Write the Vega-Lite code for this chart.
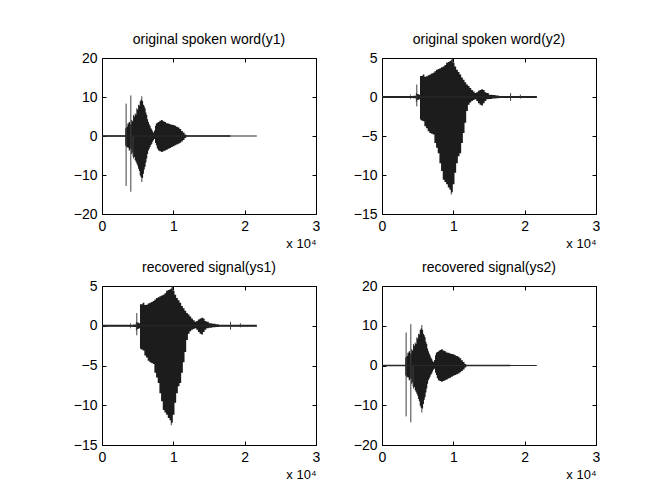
{
  "$schema": "https://vega.github.io/schema/vega-lite/v6.json",
  "padding": {"left": 72, "top": 32, "right": 5, "bottom": 5},
  "background": "white",
  "columns": 2,
  "spacing": {"row": 72, "column": 66},
  "bounds": "flush",
  "config": {
    "font": "Liberation Sans",
    "view": {"stroke": "black", "strokeWidth": 1},
    "axis": {"domain": false, "grid": false, "tickColor": "black", "tickWidth": 1, "tickSize": -4, "labelPadding": 9, "labelColor": "black", "labelFont": "Liberation Sans", "labelFontSize": 14, "labelFlush": false, "labelOverlap": false, "titleFont": "Liberation Sans", "titleFontWeight": "normal", "titleColor": "black", "titleFontSize": 13},
    "title": {"font": "Liberation Sans", "fontSize": 14, "fontWeight": "normal", "color": "black", "offset": 4}
  },
  "datasets": {
    "sigA": [
      {"x": 0, "hi": 0.2, "lo": -0.2},
      {"x": 3200, "hi": 0.2, "lo": -0.2},
      {"x": 3300, "hi": 2.0, "lo": -2.5},
      {"x": 3473, "hi": 2.4, "lo": -2.8},
      {"x": 3650, "hi": 3.2, "lo": -3.0},
      {"x": 3849, "hi": 3.6, "lo": -3.7},
      {"x": 4000, "hi": 3.0, "lo": -3.3},
      {"x": 4177, "hi": 4.1, "lo": -4.6},
      {"x": 4300, "hi": 3.8, "lo": -4.2},
      {"x": 4412, "hi": 5.4, "lo": -5.8},
      {"x": 4530, "hi": 5.0, "lo": -5.4},
      {"x": 4646, "hi": 5.8, "lo": -6.2},
      {"x": 4760, "hi": 5.5, "lo": -6.6},
      {"x": 4881, "hi": 7.1, "lo": -7.1},
      {"x": 5000, "hi": 6.8, "lo": -7.6},
      {"x": 5116, "hi": 8.0, "lo": -8.4},
      {"x": 5230, "hi": 7.8, "lo": -9.0},
      {"x": 5350, "hi": 8.9, "lo": -10.1},
      {"x": 5470, "hi": 9.3, "lo": -10.6},
      {"x": 5585, "hi": 10.2, "lo": -11.8},
      {"x": 5700, "hi": 9.0, "lo": -10.8},
      {"x": 5820, "hi": 8.0, "lo": -9.7},
      {"x": 5940, "hi": 7.6, "lo": -8.6},
      {"x": 6054, "hi": 7.1, "lo": -7.9},
      {"x": 6170, "hi": 6.0, "lo": -6.8},
      {"x": 6289, "hi": 5.4, "lo": -5.8},
      {"x": 6400, "hi": 4.3, "lo": -4.6},
      {"x": 6524, "hi": 3.6, "lo": -3.7},
      {"x": 6640, "hi": 3.0, "lo": -3.3},
      {"x": 6758, "hi": 2.6, "lo": -2.8},
      {"x": 6870, "hi": 2.0, "lo": -2.3},
      {"x": 6993, "hi": 1.7, "lo": -2.0},
      {"x": 7110, "hi": 1.2, "lo": -1.5},
      {"x": 7228, "hi": 0.9, "lo": -1.1},
      {"x": 7369, "hi": 1.4, "lo": -0.8},
      {"x": 7500, "hi": 2.6, "lo": -1.8},
      {"x": 7603, "hi": 3.2, "lo": -2.4},
      {"x": 7760, "hi": 3.4, "lo": -3.2},
      {"x": 7932, "hi": 3.6, "lo": -3.7},
      {"x": 8160, "hi": 3.9, "lo": -3.9},
      {"x": 8401, "hi": 4.1, "lo": -4.1},
      {"x": 8630, "hi": 3.8, "lo": -3.9},
      {"x": 8870, "hi": 3.6, "lo": -3.7},
      {"x": 9100, "hi": 3.3, "lo": -3.5},
      {"x": 9340, "hi": 3.2, "lo": -3.3},
      {"x": 9570, "hi": 3.0, "lo": -3.1},
      {"x": 9809, "hi": 2.9, "lo": -2.8},
      {"x": 10040, "hi": 2.8, "lo": -2.6},
      {"x": 10278, "hi": 2.6, "lo": -2.4},
      {"x": 10510, "hi": 2.4, "lo": -2.2},
      {"x": 10748, "hi": 2.2, "lo": -2.0},
      {"x": 10980, "hi": 1.8, "lo": -1.7},
      {"x": 11217, "hi": 1.3, "lo": -1.4},
      {"x": 11450, "hi": 0.9, "lo": -1.0},
      {"x": 11686, "hi": 0.4, "lo": -0.5},
      {"x": 11921, "hi": 0.2, "lo": -0.2},
      {"x": 18000, "hi": 0.2, "lo": -0.2}
    ],
    "spikesA": [
      {"x": 3380, "hi": 8.3, "lo": -12.8},
      {"x": 4040, "hi": 10.4, "lo": -14.3},
      {"x": 4350, "hi": 0, "lo": -5.2}
    ],
    "baseA": [
      {"x": 0, "y": 0},
      {"x": 21700, "y": 0}
    ],
    "sigB": [
      {"x": 0, "hi": 0.12, "lo": -0.12},
      {"x": 3900, "hi": 0.12, "lo": -0.12},
      {"x": 3950, "hi": 0.35, "lo": -0.3},
      {"x": 4050, "hi": 0.12, "lo": -0.12},
      {"x": 4700, "hi": 0.15, "lo": -0.15},
      {"x": 4800, "hi": 0.5, "lo": -0.6},
      {"x": 5000, "hi": 0.4, "lo": -0.4},
      {"x": 5300, "hi": 0.3, "lo": -0.3},
      {"x": 5350, "hi": 2.7, "lo": -2.9},
      {"x": 5585, "hi": 2.7, "lo": -3.0},
      {"x": 5820, "hi": 2.9, "lo": -3.1},
      {"x": 6054, "hi": 2.6, "lo": -3.75},
      {"x": 6289, "hi": 2.65, "lo": -4.0},
      {"x": 6524, "hi": 2.8, "lo": -4.4},
      {"x": 6758, "hi": 2.9, "lo": -4.6},
      {"x": 7000, "hi": 3.0, "lo": -4.7},
      {"x": 7228, "hi": 3.1, "lo": -4.8},
      {"x": 7462, "hi": 3.3, "lo": -5.9},
      {"x": 7697, "hi": 3.5, "lo": -6.5},
      {"x": 7932, "hi": 3.6, "lo": -7.2},
      {"x": 8166, "hi": 3.7, "lo": -8.5},
      {"x": 8401, "hi": 3.8, "lo": -9.5},
      {"x": 8636, "hi": 3.9, "lo": -10.6},
      {"x": 8870, "hi": 4.1, "lo": -10.9},
      {"x": 9105, "hi": 4.4, "lo": -11.2},
      {"x": 9340, "hi": 4.5, "lo": -11.6},
      {"x": 9574, "hi": 4.6, "lo": -11.9},
      {"x": 9715, "hi": 4.7, "lo": -12.5},
      {"x": 9809, "hi": 5.0, "lo": -12.2},
      {"x": 10044, "hi": 4.4, "lo": -11.2},
      {"x": 10278, "hi": 3.9, "lo": -9.7},
      {"x": 10513, "hi": 3.5, "lo": -8.5},
      {"x": 10748, "hi": 3.2, "lo": -7.6},
      {"x": 10982, "hi": 2.9, "lo": -7.2},
      {"x": 11217, "hi": 2.5, "lo": -5.9},
      {"x": 11452, "hi": 2.2, "lo": -4.6},
      {"x": 11686, "hi": 1.9, "lo": -3.3},
      {"x": 11921, "hi": 1.6, "lo": -1.8},
      {"x": 12156, "hi": 1.4, "lo": -1.0},
      {"x": 12390, "hi": 1.15, "lo": -0.7},
      {"x": 12625, "hi": 0.9, "lo": -0.5},
      {"x": 12860, "hi": 0.7, "lo": -0.4},
      {"x": 13100, "hi": 0.5, "lo": -0.3},
      {"x": 13329, "hi": 0.6, "lo": -0.5},
      {"x": 13560, "hi": 0.8, "lo": -0.8},
      {"x": 13798, "hi": 0.9, "lo": -1.0},
      {"x": 14030, "hi": 1.0, "lo": -1.1},
      {"x": 14268, "hi": 0.9, "lo": -0.8},
      {"x": 14500, "hi": 0.6, "lo": -0.5},
      {"x": 14737, "hi": 0.5, "lo": -0.3},
      {"x": 15206, "hi": 0.3, "lo": -0.25},
      {"x": 15675, "hi": 0.25, "lo": -0.2},
      {"x": 16145, "hi": 0.2, "lo": -0.15},
      {"x": 16614, "hi": 0.12, "lo": -0.12},
      {"x": 21700, "hi": 0.12, "lo": -0.12}
    ],
    "spikesB": [
      {"x": 4880, "hi": 1.6, "lo": -1.2},
      {"x": 18022, "hi": 0.5, "lo": -0.5},
      {"x": 19400, "hi": 0.3, "lo": -0.2}
    ],
    "baseB": [
      {"x": 0, "y": 0},
      {"x": 21700, "y": 0}
    ]
  },
  "concat": [
    {
      "width": 214, "height": 156,
      "title": "original spoken word(y1)",
      "layer": [
        {"data": {"name": "sigA"}, "mark": {"type": "area", "color": "#1c1c1c", "interpolate": "step"},
         "encoding": {
           "x": {"field": "x", "type": "quantitative", "scale": {"domain": [0, 30000], "nice": false, "zero": false}, "axis": {"orient": "bottom", "values": [0, 10000, 20000, 30000], "labelExpr": "datum.value / 10000", "title": "x 10⁴", "titleAnchor": "end", "titleAlign": "right", "titlePadding": 4}},
           "y": {"field": "hi", "type": "quantitative", "scale": {"domain": [-20, 20], "nice": false, "zero": false}, "axis": {"orient": "left", "values": [-20, -10, 0, 10, 20], "title": null}},
           "y2": {"field": "lo"}}},
        {"data": {"name": "spikesA"}, "mark": {"type": "rule", "color": "#404040", "strokeWidth": 1},
         "encoding": {
           "x": {"field": "x", "type": "quantitative", "scale": {"domain": [0, 30000], "nice": false, "zero": false}, "axis": null},
           "y": {"field": "hi", "type": "quantitative", "scale": {"domain": [-20, 20], "nice": false, "zero": false}, "axis": null},
           "y2": {"field": "lo"}}},
        {"data": {"name": "baseA"}, "mark": {"type": "line", "color": "#2a2a2a", "strokeWidth": 1},
         "encoding": {
           "x": {"field": "x", "type": "quantitative", "scale": {"domain": [0, 30000], "nice": false, "zero": false}, "axis": {"orient": "top", "values": [0, 10000, 20000, 30000], "labels": false, "title": null}},
           "y": {"field": "y", "type": "quantitative", "scale": {"domain": [-20, 20], "nice": false, "zero": false}, "axis": {"orient": "right", "values": [-20, -10, 0, 10, 20], "labels": false, "title": null}}}}
      ],
      "resolve": {"axis": {"x": "independent", "y": "independent"}}
    },
    {
      "width": 214, "height": 156,
      "title": "original spoken word(y2)",
      "layer": [
        {"data": {"name": "sigB"}, "mark": {"type": "area", "color": "#1c1c1c", "interpolate": "step"},
         "encoding": {
           "x": {"field": "x", "type": "quantitative", "scale": {"domain": [0, 30000], "nice": false, "zero": false}, "axis": {"orient": "bottom", "values": [0, 10000, 20000, 30000], "labelExpr": "datum.value / 10000", "title": "x 10⁴", "titleAnchor": "end", "titleAlign": "right", "titlePadding": 4}},
           "y": {"field": "hi", "type": "quantitative", "scale": {"domain": [-15, 5], "nice": false, "zero": false}, "axis": {"orient": "left", "values": [-15, -10, -5, 0, 5], "title": null}},
           "y2": {"field": "lo"}}},
        {"data": {"name": "spikesB"}, "mark": {"type": "rule", "color": "#404040", "strokeWidth": 1},
         "encoding": {
           "x": {"field": "x", "type": "quantitative", "scale": {"domain": [0, 30000], "nice": false, "zero": false}, "axis": null},
           "y": {"field": "hi", "type": "quantitative", "scale": {"domain": [-15, 5], "nice": false, "zero": false}, "axis": null},
           "y2": {"field": "lo"}}},
        {"data": {"name": "baseB"}, "mark": {"type": "line", "color": "#2a2a2a", "strokeWidth": 1},
         "encoding": {
           "x": {"field": "x", "type": "quantitative", "scale": {"domain": [0, 30000], "nice": false, "zero": false}, "axis": {"orient": "top", "values": [0, 10000, 20000, 30000], "labels": false, "title": null}},
           "y": {"field": "y", "type": "quantitative", "scale": {"domain": [-15, 5], "nice": false, "zero": false}, "axis": {"orient": "right", "values": [-15, -10, -5, 0, 5], "labels": false, "title": null}}}}
      ],
      "resolve": {"axis": {"x": "independent", "y": "independent"}}
    },
    {
      "width": 214, "height": 159,
      "title": "recovered signal(ys1)",
      "layer": [
        {"data": {"name": "sigB"}, "mark": {"type": "area", "color": "#1c1c1c", "interpolate": "step"},
         "encoding": {
           "x": {"field": "x", "type": "quantitative", "scale": {"domain": [0, 30000], "nice": false, "zero": false}, "axis": {"orient": "bottom", "values": [0, 10000, 20000, 30000], "labelExpr": "datum.value / 10000", "title": "x 10⁴", "titleAnchor": "end", "titleAlign": "right", "titlePadding": 4}},
           "y": {"field": "hi", "type": "quantitative", "scale": {"domain": [-15, 5], "nice": false, "zero": false}, "axis": {"orient": "left", "values": [-15, -10, -5, 0, 5], "title": null}},
           "y2": {"field": "lo"}}},
        {"data": {"name": "spikesB"}, "mark": {"type": "rule", "color": "#404040", "strokeWidth": 1},
         "encoding": {
           "x": {"field": "x", "type": "quantitative", "scale": {"domain": [0, 30000], "nice": false, "zero": false}, "axis": null},
           "y": {"field": "hi", "type": "quantitative", "scale": {"domain": [-15, 5], "nice": false, "zero": false}, "axis": null},
           "y2": {"field": "lo"}}},
        {"data": {"name": "baseB"}, "mark": {"type": "line", "color": "#2a2a2a", "strokeWidth": 1},
         "encoding": {
           "x": {"field": "x", "type": "quantitative", "scale": {"domain": [0, 30000], "nice": false, "zero": false}, "axis": {"orient": "top", "values": [0, 10000, 20000, 30000], "labels": false, "title": null}},
           "y": {"field": "y", "type": "quantitative", "scale": {"domain": [-15, 5], "nice": false, "zero": false}, "axis": {"orient": "right", "values": [-15, -10, -5, 0, 5], "labels": false, "title": null}}}}
      ],
      "resolve": {"axis": {"x": "independent", "y": "independent"}}
    },
    {
      "width": 214, "height": 159,
      "title": "recovered signal(ys2)",
      "layer": [
        {"data": {"name": "sigA"}, "mark": {"type": "area", "color": "#1c1c1c", "interpolate": "step"},
         "encoding": {
           "x": {"field": "x", "type": "quantitative", "scale": {"domain": [0, 30000], "nice": false, "zero": false}, "axis": {"orient": "bottom", "values": [0, 10000, 20000, 30000], "labelExpr": "datum.value / 10000", "title": "x 10⁴", "titleAnchor": "end", "titleAlign": "right", "titlePadding": 4}},
           "y": {"field": "hi", "type": "quantitative", "scale": {"domain": [-20, 20], "nice": false, "zero": false}, "axis": {"orient": "left", "values": [-20, -10, 0, 10, 20], "title": null}},
           "y2": {"field": "lo"}}},
        {"data": {"name": "spikesA"}, "mark": {"type": "rule", "color": "#404040", "strokeWidth": 1},
         "encoding": {
           "x": {"field": "x", "type": "quantitative", "scale": {"domain": [0, 30000], "nice": false, "zero": false}, "axis": null},
           "y": {"field": "hi", "type": "quantitative", "scale": {"domain": [-20, 20], "nice": false, "zero": false}, "axis": null},
           "y2": {"field": "lo"}}},
        {"data": {"name": "baseA"}, "mark": {"type": "line", "color": "#2a2a2a", "strokeWidth": 1},
         "encoding": {
           "x": {"field": "x", "type": "quantitative", "scale": {"domain": [0, 30000], "nice": false, "zero": false}, "axis": {"orient": "top", "values": [0, 10000, 20000, 30000], "labels": false, "title": null}},
           "y": {"field": "y", "type": "quantitative", "scale": {"domain": [-20, 20], "nice": false, "zero": false}, "axis": {"orient": "right", "values": [-20, -10, 0, 10, 20], "labels": false, "title": null}}}}
      ],
      "resolve": {"axis": {"x": "independent", "y": "independent"}}
    }
  ]
}
